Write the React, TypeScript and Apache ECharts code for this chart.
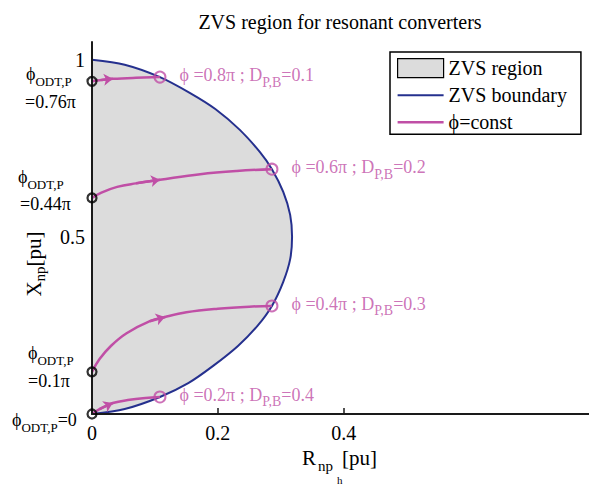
import { useEffect, useRef } from 'react';
import * as echarts from 'echarts';

const FONT = '"Liberation Serif", "Times New Roman", serif';
const MAGENTA = '#c04fa6';
const NAVY = '#25308e';
const AXIS = '#1a1a1a';

const titleText = 'ZVS region for resonant converters';
const legendNames = ['ZVS region', 'ZVS boundary', 'ϕ=const'];

const xTickLabels = [0, 0.2, 0.4];
const yTickLabels = [0.5, 1];

// ZVS boundary (R, X)
const boundaryR = [0, 0.052, 0.108, 0.156, 0.196, 0.235, 0.267, 0.286, 0.304, 0.315, 0.318, 0.315, 0.304, 0.286, 0.264, 0.232, 0.192, 0.153, 0.108, 0.052, 0];
const boundaryX = [1.000, 0.986, 0.951, 0.906, 0.861, 0.802, 0.739, 0.691, 0.627, 0.562, 0.500, 0.437, 0.373, 0.305, 0.251, 0.192, 0.135, 0.087, 0.048, 0.014, 0];

// constant-phi trajectories
const curveA_R = [0, 0.015, 0.033, 0.070, 0.108];
const curveA_X = [0.939, 0.943, 0.946, 0.949, 0.951];
const curveB_R = [0, 0.015, 0.040, 0.070, 0.108, 0.172, 0.230, 0.286];
const curveB_X = [0.610, 0.625, 0.641, 0.651, 0.661, 0.677, 0.686, 0.691];
const curveC_R = [0, 0.012, 0.030, 0.055, 0.092, 0.116, 0.150, 0.200, 0.250, 0.286];
const curveC_X = [0.119, 0.155, 0.192, 0.228, 0.262, 0.274, 0.287, 0.297, 0.303, 0.305];
const curveD_R = [0, 0.012, 0.033, 0.060, 0.085, 0.108];
const curveD_X = [0, 0.014, 0.031, 0.040, 0.045, 0.048];
const arrowIndex = [2, 4, 5, 2];

const phiLabels = ['0.8π', '0.6π', '0.4π', '0.2π'];
const dLabels = ['0.1', '0.2', '0.3', '0.4'];
const odtLabels = ['0.76π', '0.44π', '0.1π', '0'];

const zip = (a: number[], b: number[]) => a.map((v, i) => [v, b[i]]);

export default function App() {
  const ref = useRef<HTMLDivElement>(null);
  useEffect(() => {
    if (!ref.current) return;
    const chart = echarts.init(ref.current, null, { renderer: 'svg' });
    const boundary = zip(boundaryR, boundaryX);
    const curves = [zip(curveA_R, curveA_X), zip(curveB_R, curveB_X), zip(curveC_R, curveC_X), zip(curveD_R, curveD_X)];
    const starts = curves.map((c) => c[0]);
    const ends = curves.map((c) => c[c.length - 1]);
    const arrows = curves.map((c, i) => ({ coords: [c[arrowIndex[i] - 1], c[arrowIndex[i]]] }));

    const subRich = {
      p: { fontFamily: FONT, fontSize: 18, lineHeight: 20, color: '#000' },
      s: { fontFamily: FONT, fontSize: 13, lineHeight: 13, padding: [15, 0, 0, 0], color: '#000' },
    };
    const leftLabel = (x: number, y: number, text: string) => ({
      type: 'text', left: x, top: y,
      style: { text, rich: subRich, fontFamily: FONT, fontSize: 18, fill: '#000', verticalAlign: 'middle' },
      silent: true,
    });
    const plain = (x: number, y: number, text: string, size: number) => ({
      type: 'text', x, y,
      style: { text, fontFamily: FONT, fontSize: size, fill: '#000', verticalAlign: 'middle' },
      silent: true,
    });

    chart.setOption({
      animation: false,
      backgroundColor: '#fff',
      title: {
        text: titleText, left: 335, top: 7, textAlign: 'center',
        textStyle: { fontFamily: FONT, fontSize: 20, fontWeight: 'normal', color: '#000' },
      },
      legend: {
        data: [
          { name: legendNames[0], icon: 'rect', itemStyle: { color: '#dcdcdc', borderColor: '#000', borderWidth: 1.2 } },
          { name: legendNames[1], icon: 'path://M0,0L46,0L46,2L0,2Z', itemStyle: { color: NAVY } },
          { name: legendNames[2], icon: 'path://M0,0L46,0L46,2.5L0,2.5Z', itemStyle: { color: MAGENTA } },
        ],
        symbolKeepAspect: true,
        orient: 'vertical', left: 390, top: 52,
        itemWidth: 46, itemHeight: 19, itemGap: 7,
        backgroundColor: '#fff', borderColor: '#000', borderWidth: 1.5, borderRadius: 0,
        padding: [6, 14, 2, 7],
        selectedMode: false,
        textStyle: { fontFamily: FONT, fontSize: 20, color: '#000' },
      },
      grid: { left: 92, right: 0, top: 42, bottom: 71, containLabel: false, outerBoundsMode: 'none' },
      xAxis: {
        type: 'value', min: 0, max: 0.79, interval: 0.2, z: 3,
        axisLine: { onZero: false, lineStyle: { color: AXIS, width: 2 } },
        axisTick: { show: true, inside: true, length: 6, customValues: [0.2, 0.4], lineStyle: { color: AXIS, width: 1.5 } },
        axisLabel: { customValues: xTickLabels, fontFamily: FONT, fontSize: 20, color: '#000', margin: 9, formatter: (v: number) => String(v) },
        splitLine: { show: false },
      },
      yAxis: {
        type: 'value', min: 0, max: 1.05, z: 3,
        axisLine: { onZero: false, lineStyle: { color: AXIS, width: 2 } },
        axisTick: { show: false },
        axisLabel: { customValues: yTickLabels, fontFamily: FONT, fontSize: 20, color: '#000', margin: 7 },
        splitLine: { show: false },
      },
      series: [
        {
          type: 'custom', name: legendNames[0], coordinateSystem: 'cartesian2d', z: 1, silent: true, clip: true,
          data: boundary,
          itemStyle: { color: '#dcdcdc', borderColor: '#000', borderWidth: 1.2 },
          renderItem: (params: any, api: any) => {
            if (params.dataIndex !== 0) return null;
            const pts = boundary.map((p) => api.coord(p));
            return { type: 'polygon', shape: { points: pts }, style: { fill: '#dcdcdc', stroke: 'none' } };
          },
        },
        {
          type: 'line', name: legendNames[1], data: boundary, smooth: 0.3, symbol: 'none', z: 2,
          lineStyle: { color: NAVY, width: 2 }, itemStyle: { color: NAVY },
        },
        ...curves.map((c) => ({
          type: 'line', name: legendNames[2], data: c, smooth: 0.4, symbol: 'none', z: 2,
          lineStyle: { color: MAGENTA, width: 2.5 }, itemStyle: { color: MAGENTA },
        })),
        {
          type: 'lines', coordinateSystem: 'cartesian2d', name: 'arrows', z: 4, silent: true,
          symbol: ['none', 'arrow'], symbolSize: 9,
          lineStyle: { color: MAGENTA, width: 2.5, opacity: 1 },
          data: arrows,
        },
        {
          type: 'scatter', name: 'starts', data: starts, z: 5, silent: true,
          symbol: 'circle', symbolSize: 9,
          itemStyle: { color: 'rgba(0,0,0,0)', borderColor: '#000', borderWidth: 2.2 },
        },
        {
          type: 'scatter', name: 'ends', data: ends, z: 5, silent: true,
          symbol: 'circle', symbolSize: 11,
          itemStyle: { color: 'rgba(0,0,0,0)', borderColor: MAGENTA, borderWidth: 2 },
          label: {
            show: true, position: 'right', distance: 13, offset: [0, -2],
            formatter: (p: any) => `{a|ϕ =${phiLabels[p.dataIndex]} ; D}{s|P,B}{a|=${dLabels[p.dataIndex]}}`,
            rich: {
              a: { fontFamily: FONT, fontSize: 18, lineHeight: 20, color: MAGENTA },
              s: { fontFamily: FONT, fontSize: 14, lineHeight: 14, padding: [14, 0, 0, 0], color: MAGENTA },
            },
          },
        },
      ],
      graphic: [
        {
          type: 'text', x: 34, y: 264, rotation: Math.PI / 2, silent: true,
          style: {
            text: '{b|X}{s|np}{b|[pu]}', align: 'center', verticalAlign: 'middle',
            rich: {
              b: { fontFamily: FONT, fontSize: 21, lineHeight: 22, fill: '#000', color: '#000' },
              s: { fontFamily: FONT, fontSize: 15, lineHeight: 15, padding: [12, 0, 0, 0], fill: '#000', color: '#000' },
            },
          },
        },
        plain(302, 458, 'R', 21),
        plain(318, 466, 'np', 15),
        plain(337, 480, 'h', 11),
        plain(342, 458, '[pu]', 21),
        plain(133, 240, 'ZVS region', 21),
        leftLabel(26, 60, '{p|ϕ}{s|ODT,P}'),
        plain(25, 102, '=' + odtLabels[0], 18),
        leftLabel(18, 163, '{p|ϕ}{s|ODT,P}'),
        plain(20, 204, '=' + odtLabels[1], 18),
        leftLabel(28, 339, '{p|ϕ}{s|ODT,P}'),
        plain(28, 381, '=' + odtLabels[2], 18),
        leftLabel(12, 406, '{p|ϕ}{s|ODT,P}{p|=' + odtLabels[3] + '}'),
      ],
    });
    return () => chart.dispose();
  }, []);
  return <div ref={ref} style={{ position: 'absolute', left: 0, top: 0, width: 589, height: 485 }} />;
}
